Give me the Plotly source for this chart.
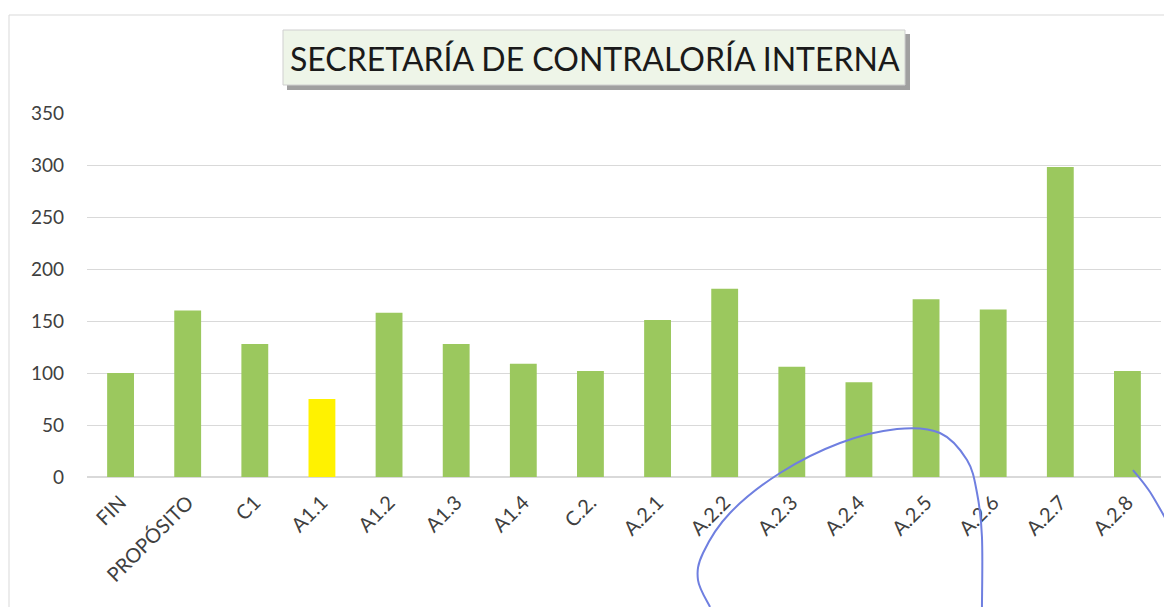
import plotly.graph_objects as go

categories = ["FIN", "PROPÓSITO", "C1", "A1.1", "A1.2", "A1.3", "A1.4", "C.2.",
              "A.2.1", "A.2.2", "A.2.3", "A.2.4", "A.2.5", "A.2.6", "A.2.7", "A.2.8"]
values = [100, 160, 128, 75, 158, 128, 109, 102, 151, 181, 106, 91, 171, 161, 298, 102]
bar_colors = ["#9BC85E", "#9BC85E", "#9BC85E", "#FFF200", "#9BC85E", "#9BC85E", "#9BC85E", "#9BC85E",
              "#9BC85E", "#9BC85E", "#9BC85E", "#9BC85E", "#9BC85E", "#9BC85E", "#9BC85E", "#9BC85E"]
y_ticks = [0, 50, 100, 150, 200, 250, 300, 350]
title_text = "SECRETARÍA DE CONTRALORÍA INTERNA"

OFF = 8  # page body margin offset
W, H = 1172 - OFF, 607 - OFF
ml, mr, mt, mb = 87 - OFF, 19 - OFF, 113 - OFF, 130
pw, ph = W - ml - mr, H - mt - mb

def px(x):
    return (x - OFF - ml) / pw

def py(y):
    return (H - mb - (y - OFF)) / ph

def smooth_path(pts):
    # Catmull-Rom -> cubic Bezier, in paper coordinates
    P = [(px(x), py(y)) for x, y in pts]
    d = f"M {P[0][0]:.4f},{P[0][1]:.4f}"
    for i in range(len(P) - 1):
        p0 = P[i - 1] if i > 0 else P[i]
        p1, p2 = P[i], P[i + 1]
        p3 = P[i + 2] if i + 2 < len(P) else P[i + 1]
        c1 = (p1[0] + (p2[0] - p0[0]) / 6, p1[1] + (p2[1] - p0[1]) / 6)
        c2 = (p2[0] - (p3[0] - p1[0]) / 6, p2[1] - (p3[1] - p1[1]) / 6)
        d += f" C {c1[0]:.4f},{c1[1]:.4f} {c2[0]:.4f},{c2[1]:.4f} {p2[0]:.4f},{p2[1]:.4f}"
    return d

fig = go.Figure(go.Bar(x=categories, y=values, marker=dict(color=bar_colors, line=dict(width=0)),
                       width=0.4))

font_family = "Lato, Carlito, 'Open Sans', sans-serif"

# hand-drawn pen annotation (scan artifact)
loop = [(710, 607), (698, 580), (703, 553), (730, 513), (780, 473), (840, 443), (897, 429),
        (940, 433), (967, 460), (977, 493), (982, 537), (982, 607)]
stroke2 = [(1133, 470), (1150, 492), (1172, 530)]

shapes = [
    dict(type="rect", xref="paper", yref="paper", x0=px(9), x1=px(1300), y0=py(700), y1=py(15),
         line=dict(color="#d9d9d9", width=1), fillcolor="rgba(0,0,0,0)", layer="below"),
    # title box shadow + box
    dict(type="rect", xref="paper", yref="paper", x0=px(287), x1=px(910), y0=py(90), y1=py(34),
         line=dict(width=0), fillcolor="#a0a0a0", layer="above"),
    dict(type="rect", xref="paper", yref="paper", x0=px(283), x1=px(905), y0=py(85), y1=py(30),
         line=dict(color="#cfcfcf", width=1), fillcolor="#eef5e8", layer="above"),
    dict(type="path", xref="paper", yref="paper", path=smooth_path(loop),
         line=dict(color="#6f7fe0", width=2), layer="above"),
    dict(type="path", xref="paper", yref="paper", path=smooth_path(stroke2),
         line=dict(color="#6f7fe0", width=2), layer="above"),
]

annotations = [
    dict(text=title_text, x=px(595), y=py(58), xref="paper", yref="paper", showarrow=False,
         font=dict(size=32, family=font_family, color="#1a1a1a"),
         xanchor="center", yanchor="middle"),
]

fig.update_layout(
    width=W, height=H,
    margin=dict(l=ml, r=mr, t=mt, b=mb),
    paper_bgcolor="white", plot_bgcolor="white",
    showlegend=False,
    bargap=0.6,
    shapes=shapes,
    annotations=annotations,
    font=dict(family=font_family, color="#404040"),
)
fig.update_yaxes(range=[0, 350], tickvals=y_ticks, showgrid=True, gridcolor="#d9d9d9", gridwidth=1,
                 zeroline=True, zerolinecolor="#d9d9d9", showline=False,
                 tickfont=dict(size=19, color="#404040", family=font_family), ticklabelstandoff=22)
fig.update_xaxes(tickangle=-45, showgrid=False, showline=False, ticks="",
                 tickfont=dict(size=20, color="#404040", family=font_family), ticklabelstandoff=9)

fig.write_html("out.html")
